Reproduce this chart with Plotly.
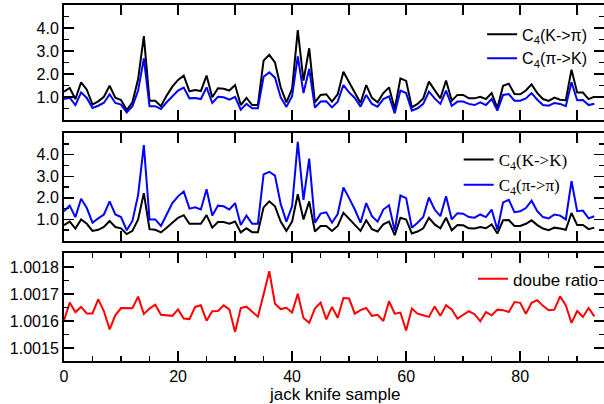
import plotly.graph_objects as go

sample = list(range(94))

c4_K_to_pi = [1.23, 1.39, 0.91, 1.64, 1.32, 0.67, 0.81, 1.01, 1.49, 0.97,
              0.87, 0.43, 0.77, 1.78, 3.65, 0.84, 0.84, 0.60, 1.06, 1.45,
              1.74, 1.93, 1.25, 1.30, 1.26, 1.93, 0.99, 1.38, 1.36, 1.28,
              1.52, 0.65, 0.96, 0.65, 0.65, 2.58, 2.83, 2.50, 1.42, 0.77,
              1.35, 3.91, 1.71, 3.12, 0.77, 1.09, 1.12, 0.80, 1.12, 2.10,
              1.64, 1.20, 0.74, 1.52, 0.96, 0.77, 1.17, 1.42, 0.48, 1.81,
              1.70, 0.55, 0.70, 0.94, 1.67, 1.30, 0.94, 1.72, 0.84, 1.09,
              1.09, 0.94, 0.94, 1.01, 0.91, 1.17, 0.52, 1.49, 1.58, 1.13,
              1.12, 1.28, 1.55, 1.17, 0.91, 0.83, 0.97, 0.88, 0.86, 2.19,
              1.19, 1.19, 0.91, 1.01]

c4_pi_to_K = [0.91, 0.97, 0.65, 1.20, 0.96, 0.52, 0.62, 0.75, 1.12, 0.74,
              0.67, 0.33, 0.60, 1.28, 2.68, 0.60, 0.60, 0.48, 0.77, 1.01,
              1.28, 1.41, 0.94, 0.96, 0.91, 1.42, 0.74, 1.01, 0.99, 0.88,
              1.01, 0.45, 0.70, 0.51, 0.51, 1.88, 2.07, 1.84, 0.99, 0.57,
              1.03, 2.77, 1.17, 2.22, 0.54, 0.80, 0.81, 0.55, 0.80, 1.52,
              1.20, 0.96, 0.58, 1.09, 0.70, 0.58, 0.91, 1.03, 0.29, 1.28,
              1.17, 0.41, 0.51, 0.70, 1.23, 0.94, 0.70, 1.28, 0.61, 0.80,
              0.80, 0.70, 0.65, 0.77, 0.65, 0.91, 0.41, 1.09, 1.13, 0.84,
              0.84, 0.94, 1.17, 0.88, 0.65, 0.62, 0.74, 0.70, 0.60, 1.64,
              0.86, 0.87, 0.65, 0.71]

c4_K_to_K = [0.74, 0.90, 0.58, 1.00, 0.80, 0.47, 0.52, 0.65, 0.93, 0.65,
             0.59, 0.32, 0.47, 1.00, 2.22, 0.55, 0.52, 0.40, 0.62, 0.85,
             1.08, 1.20, 0.80, 0.80, 0.80, 1.20, 0.62, 0.88, 0.88, 0.80,
             0.90, 0.40, 0.59, 0.41, 0.41, 1.56, 1.84, 1.61, 0.90, 0.47,
             0.90, 2.17, 1.00, 1.84, 0.44, 0.70, 0.70, 0.47, 0.70, 1.31,
             1.03, 0.77, 0.47, 0.96, 0.55, 0.44, 0.77, 0.90, 0.27, 1.08,
             1.00, 0.35, 0.44, 0.59, 1.08, 0.77, 0.59, 1.08, 0.50, 0.74,
             0.73, 0.59, 0.58, 0.65, 0.59, 0.77, 0.35, 0.96, 0.97, 0.70,
             0.70, 0.80, 0.96, 0.74, 0.58, 0.50, 0.62, 0.58, 0.52, 1.30,
             0.74, 0.74, 0.55, 0.62]

c4_pi_to_pi = [1.38, 1.64, 1.11, 1.96, 1.53, 0.85, 1.05, 1.23, 1.84, 1.23,
               1.11, 0.50, 0.93, 2.14, 4.45, 1.00, 1.00, 0.70, 1.23, 1.76,
               2.07, 2.30, 1.50, 1.56, 1.46, 2.40, 1.18, 1.64, 1.61, 1.46,
               1.76, 0.74, 1.18, 0.80, 0.80, 3.09, 3.21, 3.03, 1.72, 0.90,
               1.61, 4.60, 1.91, 3.82, 0.85, 1.27, 1.33, 0.85, 1.25, 2.48,
               1.99, 1.46, 0.85, 1.76, 1.15, 0.90, 1.46, 1.66, 0.47, 2.11,
               1.99, 0.62, 0.85, 1.11, 2.02, 1.46, 1.15, 2.08, 1.00, 1.29,
               1.27, 1.11, 1.08, 1.23, 1.11, 1.46, 0.52, 1.79, 1.91, 1.34,
               1.38, 1.53, 1.87, 1.38, 1.11, 1.05, 1.23, 1.18, 1.00, 2.78,
               1.38, 1.41, 1.05, 1.15]

double_ratio = [1.001602, 1.001668, 1.001633, 1.001652, 1.001628, 1.001628, 1.001680, 1.001636, 1.001569, 1.001621,
                1.001648, 1.001647, 1.001647, 1.001690, 1.001626, 1.001646, 1.001660, 1.001623, 1.001622, 1.001619,
                1.001643, 1.001609, 1.001607, 1.001652, 1.001658, 1.001601, 1.001636, 1.001637, 1.001658, 1.001643,
                1.001559, 1.001648, 1.001653, 1.001633, 1.001616, 1.001698, 1.001784, 1.001664, 1.001644, 1.001649,
                1.001631, 1.001701, 1.001611, 1.001593, 1.001646, 1.001668, 1.001606, 1.001652, 1.001612, 1.001685,
                1.001683, 1.001627, 1.001640, 1.001648, 1.001619, 1.001623, 1.001600, 1.001673, 1.001627, 1.001631,
                1.001565, 1.001646, 1.001627, 1.001621, 1.001615, 1.001654, 1.001619, 1.001658, 1.001643, 1.001609,
                1.001621, 1.001636, 1.001625, 1.001599, 1.001633, 1.001621, 1.001642, 1.001640, 1.001633, 1.001670,
                1.001667, 1.001627, 1.001667, 1.001677, 1.001656, 1.001640, 1.001642, 1.001691, 1.001658, 1.001593,
                1.001637, 1.001615, 1.001648, 1.001617]

y_ticks_c4 = [1, 2, 3, 4]
y_minor_c4 = [0.5, 1.5, 2.5, 3.5, 4.5]
y_ticks_ratio = [1.0015, 1.0016, 1.0017, 1.0018]
x_title = "jack knife sample"

SANS = "Liberation Sans, Arial, sans-serif"
SERIF = "Liberation Serif, Times New Roman, serif"

fig = go.Figure()
fig.add_trace(go.Scatter(x=sample, y=c4_K_to_pi, mode="lines", line=dict(color="black", width=2),
                         name="C<sub>4</sub>(K-&gt;π)", xaxis="x", yaxis="y", legend="legend"))
fig.add_trace(go.Scatter(x=sample, y=c4_pi_to_K, mode="lines", line=dict(color="#0000ff", width=2),
                         name="C<sub>4</sub>(π-&gt;K)", xaxis="x", yaxis="y", legend="legend"))
fig.add_trace(go.Scatter(x=sample, y=c4_K_to_K, mode="lines", line=dict(color="black", width=2),
                         name="C<sub>4</sub>(K-&gt;K)", xaxis="x2", yaxis="y2", legend="legend2"))
fig.add_trace(go.Scatter(x=sample, y=c4_pi_to_pi, mode="lines", line=dict(color="#0000ff", width=2),
                         name="C<sub>4</sub>(π-&gt;π)", xaxis="x2", yaxis="y2", legend="legend2"))
fig.add_trace(go.Scatter(x=sample, y=double_ratio, mode="lines", line=dict(color="#ff0000", width=2),
                         name="doube ratio", xaxis="x3", yaxis="y3", legend="legend3"))

common_x = dict(range=[0, 94.7], showline=True, linecolor="black", linewidth=2, mirror="allticks",
                ticks="inside", ticklen=10, tickwidth=1.5, tickcolor="black", showgrid=False, zeroline=False,
                automargin=False)
common_y = dict(showline=True, linecolor="black", linewidth=2, mirror="allticks",
                ticks="inside", ticklen=10, tickwidth=1.5, tickcolor="black", showgrid=False, zeroline=False,
                automargin=False, tickfont=dict(family=SANS, size=16, color="black"))

fig.update_layout(
    width=604, height=404,
    margin=dict(l=64, r=0, t=5, b=43, autoexpand=False),
    paper_bgcolor="white", plot_bgcolor="white",
    font=dict(family=SANS, color="black"),
    xaxis=dict(common_x, domain=[0, 1], anchor="y", dtick=10, tick0=0, showticklabels=False),
    xaxis2=dict(common_x, domain=[0, 1], anchor="y2", dtick=10, tick0=0, showticklabels=False),
    xaxis3=dict(common_x, domain=[0, 1], anchor="y3", dtick=20, tick0=0,
                tickfont=dict(family=SANS, size=16, color="black"),
                minor=dict(dtick=5, tick0=0, ticks="inside", ticklen=5, tickwidth=1.5, tickcolor="black")),
    yaxis=dict(common_y, domain=[0.677, 1.0], anchor="x", range=[0, 5], tickmode="array",
               tickvals=y_ticks_c4, tickformat=".1f",
               minor=dict(tickmode="array", tickvals=y_minor_c4, ticks="inside", ticklen=5, tickwidth=1.5, tickcolor="black")),
    yaxis2=dict(common_y, domain=[0.337, 0.64], anchor="x2", range=[0, 5], tickmode="array",
                tickvals=y_ticks_c4, tickformat=".1f",
                minor=dict(tickmode="array", tickvals=y_minor_c4, ticks="inside", ticklen=5, tickwidth=1.5, tickcolor="black")),
    yaxis3=dict(common_y, domain=[0, 0.303], anchor="x3", range=[1.001452, 1.001851], tickmode="array",
                tickvals=y_ticks_ratio, tickformat=".4f",
                minor=dict(dtick=0.00005, tick0=1.0015, ticks="inside", ticklen=5, tickwidth=1.5, tickcolor="black")),
    legend=dict(x=0.978, y=0.965, xanchor="right", yanchor="top", bgcolor="rgba(0,0,0,0)",
                font=dict(family=SANS, size=16, color="black"), tracegroupgap=0, itemwidth=30),
    legend2=dict(x=0.942, y=0.615, xanchor="right", yanchor="top", bgcolor="rgba(0,0,0,0)",
                 font=dict(family=SERIF, size=17, color="black"), tracegroupgap=0, itemwidth=30),
    legend3=dict(x=1.0, y=0.28, xanchor="right", yanchor="top", bgcolor="rgba(0,0,0,0)",
                 font=dict(family=SANS, size=17, color="black"), tracegroupgap=0, itemwidth=30),
    showlegend=True,
    annotations=[dict(text=x_title, x=0.5, y=-0.095, xref="paper", yref="paper",
                      xanchor="center", yanchor="middle", showarrow=False,
                      font=dict(family=SANS, size=17, color="black"))],
)

fig.write_html("out.html", config={"displayModeBar": False, "staticPlot": True},
               post_script="document.body.style.margin='0';document.body.style.overflow='hidden';")
